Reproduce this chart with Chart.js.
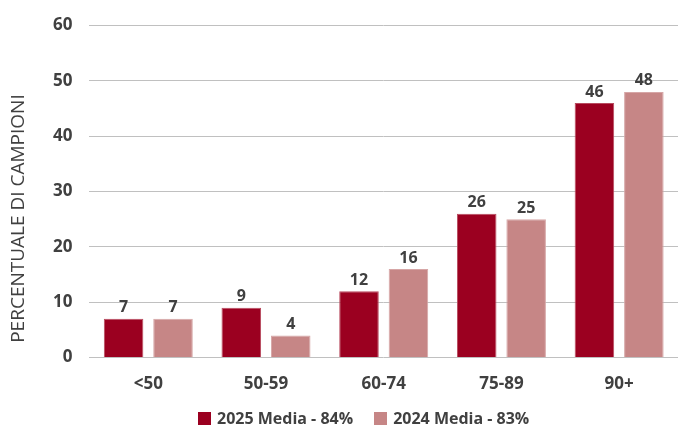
<!DOCTYPE html>
<html lang="it">
<head>
<meta charset="UTF-8">
<title>Percentuale di campioni</title>
<script src="https://cdn.jsdelivr.net/npm/chart.js@4"></script>
<style>
  html, body { margin: 0; padding: 0; background: #fff; }
  #wrap { position: relative; width: 678px; height: 426px; }
  #legend {
    position: absolute; left: 198px; top: 407px;
    display: flex; gap: 21px;
    font: bold 16px "Open Sans", sans-serif; color: #404040; line-height: 22px;
  }
  #legend .item { display: flex; align-items: center; white-space: nowrap; }
  #legend .box { width: 13px; height: 13px; margin-right: 6px; }
</style>
</head>
<body>
<div id="wrap">
  <canvas id="chart"></canvas>
  <div id="legend"></div>
</div>
<script>
const categories = ['<50', '50-59', '60-74', '75-89', '90+'];
const values2025 = [7, 9, 12, 26, 46];
const values2024 = [7, 4, 16, 25, 48];
const seriesLabels = ['2025 Media - 84%', '2024 Media - 83%'];
const seriesColors = ['#9B0020', '#C68686'];
const seriesBorders = ['#B84A5E', '#D6A6A6'];
const yTicks = [0, 10, 20, 30, 40, 50, 60];
const yTitle = 'PERCENTUALE DI CAMPIONI';

const FONT = '"Open Sans", sans-serif';
const TEXT = '#404040';

// value labels above each bar + rotated y axis title
const extras = {
  id: 'extras',
  afterDatasetsDraw(chart) {
    const ctx = chart.ctx;
    ctx.save();
    ctx.font = 'bold 16px ' + FONT;
    ctx.fillStyle = TEXT;
    ctx.textAlign = 'center';
    ctx.textBaseline = 'bottom';
    chart.data.datasets.forEach((ds, i) => {
      chart.getDatasetMeta(i).data.forEach((bar, j) => {
        ctx.fillText(ds.data[j], bar.x, bar.y - 3);
      });
    });

    const area = chart.chartArea;
    ctx.font = '19px ' + FONT;
    ctx.textBaseline = 'middle';
    ctx.translate(19, (area.top + area.bottom) / 2 + 27);
    ctx.rotate(-Math.PI / 2);
    ctx.fillText(yTitle, 0, 0);
    ctx.restore();
  }
};

const chart = new Chart(document.getElementById('chart'), {
  type: 'bar',
  data: {
    labels: categories,
    datasets: [
      { label: seriesLabels[0], data: values2025, backgroundColor: seriesColors[0], borderColor: seriesBorders[0], borderWidth: 1 },
      { label: seriesLabels[1], data: values2024, backgroundColor: seriesColors[1], borderColor: seriesBorders[1], borderWidth: 1 }
    ]
  },
  options: {
    responsive: true,
    maintainAspectRatio: false,
    animation: false,
    layout: { padding: { top: 0, right: 0, left: 36, bottom: 24 } },
    datasets: { bar: { categoryPercentage: 0.84, barPercentage: 0.8 } },
    scales: {
      x: {
        grid: { display: false },
        border: { display: false },
        ticks: { color: TEXT, font: { family: FONT, size: 17, weight: 'bold' }, padding: 8 }
      },
      y: {
        min: 0, max: 60,
        afterBuildTicks: axis => { axis.ticks = yTicks.map(v => ({ value: v })); },
        grid: { color: '#C0C0C0', lineWidth: 1, drawTicks: false },
        border: { display: false },
        ticks: { color: TEXT, font: { family: FONT, size: 17, weight: 'bold', lineHeight: 1 }, padding: 17 }
      }
    },
    plugins: {
      legend: { display: false },
      tooltip: { enabled: false }
    }
  },
  plugins: [extras]
});

// html legend built from the datasets
const legend = document.getElementById('legend');
chart.data.datasets.forEach(ds => {
  const item = document.createElement('span');
  item.className = 'item';
  const box = document.createElement('span');
  box.className = 'box';
  box.style.background = ds.backgroundColor;
  item.appendChild(box);
  item.appendChild(document.createTextNode(ds.label));
  legend.appendChild(item);
});
</script>
</body>
</html>
